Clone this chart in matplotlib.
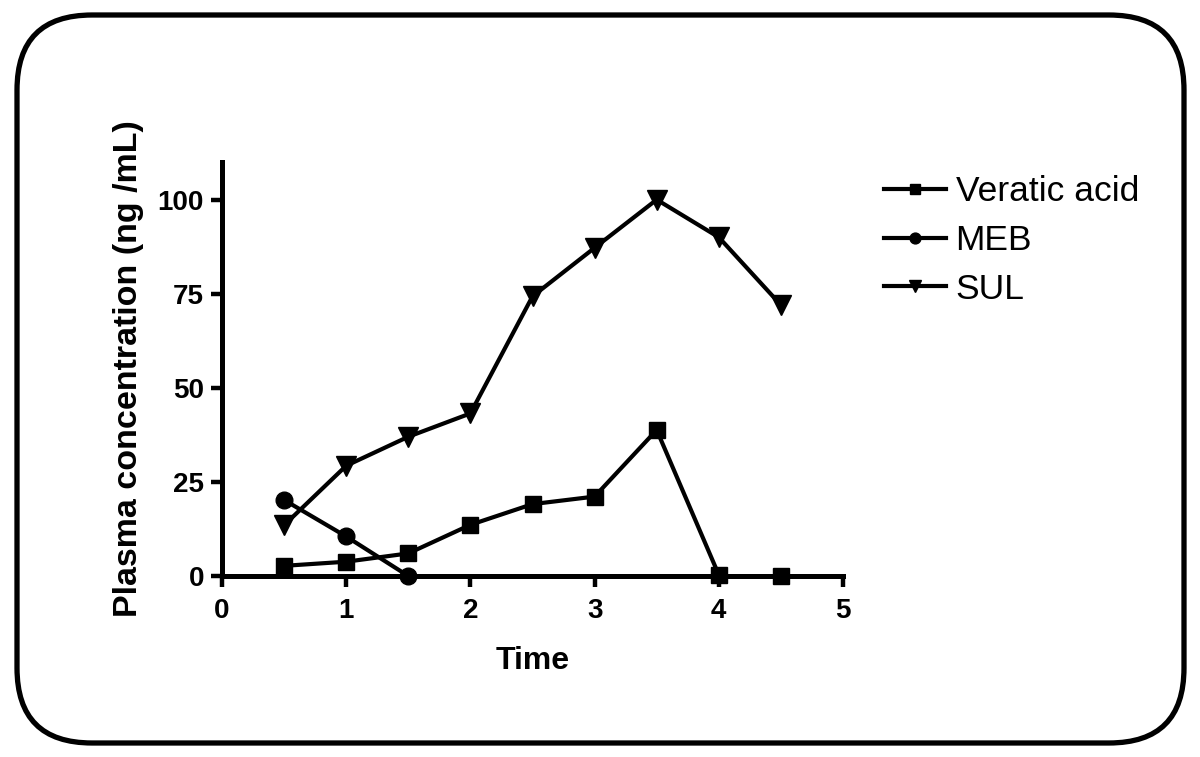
import matplotlib
matplotlib.use("Agg")
import matplotlib.pyplot as plt
from matplotlib.patches import FancyBboxPatch

plt.rcParams['font.family'] = ['Liberation Sans', 'DejaVu Sans']

time = [0.5, 1.0, 1.5, 2.0, 2.5, 3.0, 3.5, 4.0, 4.5]
veratic_acid = [2.7, 3.8, 6.0, 13.6, 19.1, 21.1, 38.8, 0.3, 0.0]
meb_time = [0.5, 1.0, 1.5]
meb = [20.2, 10.5, 0.0]
sul = [13.5, 29.3, 37.0, 43.2, 74.3, 87.2, 100.0, 90.0, 72.0]

x_ticks = [0, 1, 2, 3, 4, 5]
y_ticks = [0, 25, 50, 75, 100]

fig = plt.figure(figsize=(12, 7.57), dpi=100)

# rounded frame
bg = fig.add_axes([0, 0, 1, 1])
bg.set_xlim(0, 1200)
bg.set_ylim(757, 0)
bg.axis('off')
bg.add_patch(FancyBboxPatch((17, 15), 1167, 728,
                            boxstyle="round,pad=0,rounding_size=75",
                            fill=False, edgecolor='black', linewidth=3.8))

ax = fig.add_axes([222/1200, 1-576/757, (843-222)/1200, (576-162)/757])
lw = 3.0
ax.plot(time[:8], veratic_acid[:8], color='black', lw=lw, marker='s', ms=12,
        label='Veratic acid', clip_on=False, zorder=3)
ax.plot(time[8:], veratic_acid[8:], color='black', lw=0, marker='s', ms=12,
        clip_on=False, zorder=3)
ax.plot(meb_time, meb, color='black', lw=lw, marker='o', ms=12,
        label='MEB', clip_on=False, zorder=3)
ax.plot(time, sul, color='black', lw=lw, marker='v', ms=14,
        label='SUL', clip_on=False, zorder=3)

ax.set_xlim(0, 5)
ax.set_ylim(0, 110)
ax.set_xticks(x_ticks)
ax.set_yticks(y_ticks)
for s in ['top', 'right']:
    ax.spines[s].set_visible(False)
for s in ['left', 'bottom']:
    ax.spines[s].set_linewidth(3.6)
ax.tick_params(axis='both', direction='out', length=8, width=3.2,
               labelsize=20, pad=5)
ax.tick_params(axis='x', pad=8)
for lab in ax.get_xticklabels() + ax.get_yticklabels():
    lab.set_fontweight('bold')
ax.set_xlabel('Time', fontsize=23, fontweight='bold', labelpad=16)
ax.set_ylabel('Plasma concentration (ng /mL)', fontsize=24.5, fontweight='bold',
              labelpad=10)

handles, labels = ax.get_legend_handles_labels()
fig.legend(handles, labels, loc='upper left', bbox_to_anchor=(884/1200, 1-175/757),
           frameon=False, fontsize=25.5, handlelength=1.75, handletextpad=0.27,
           labelspacing=0.45, markerscale=0.65, borderaxespad=0, borderpad=0)

fig.savefig('out.png', dpi=100)
